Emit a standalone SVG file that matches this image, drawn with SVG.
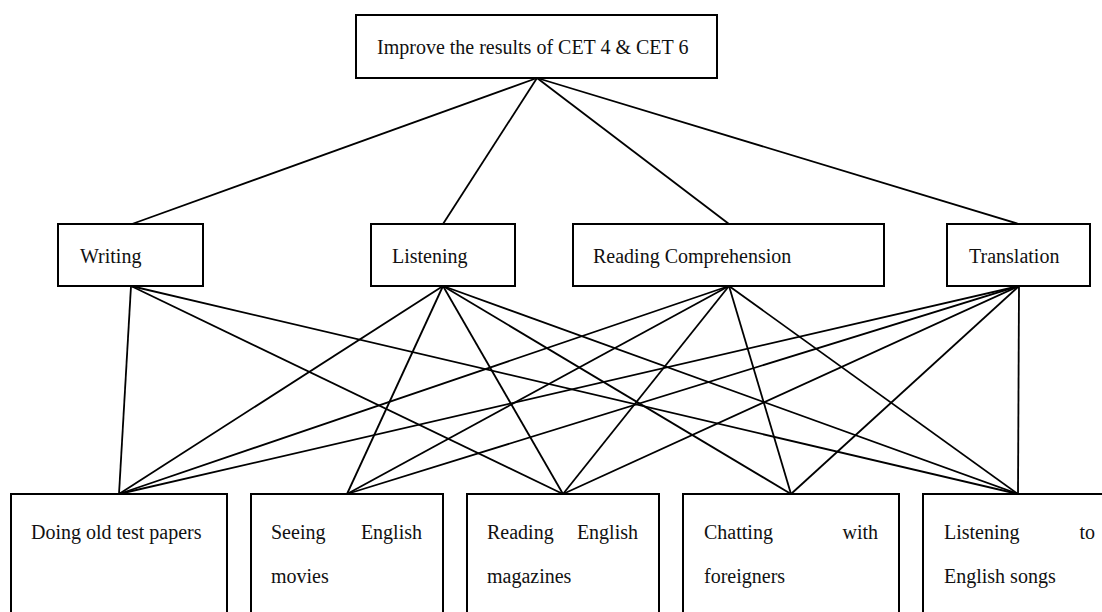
<svg xmlns="http://www.w3.org/2000/svg" width="1102" height="612" viewBox="0 0 1102 612">
<style>
.box{fill:#fff;stroke:#000;stroke-width:2}
.t{font-family:"Liberation Serif","Times New Roman",serif;font-size:20px;fill:#111}
.e{text-anchor:end}
.c line{stroke:#000;stroke-width:1.8}
</style>
<rect width="1102" height="612" fill="#fff"/>
<g class="c" id="connectors">
<line x1="537" y1="78" x2="132" y2="224"/>
<line x1="537" y1="78" x2="443" y2="224"/>
<line x1="537" y1="78" x2="729" y2="224"/>
<line x1="537" y1="78" x2="1019" y2="224"/>
<line x1="131" y1="286" x2="119" y2="494"/>
<line x1="131" y1="286" x2="563" y2="494"/>
<line x1="131" y1="286" x2="1018" y2="494"/>
<line x1="443" y1="286" x2="119" y2="494"/>
<line x1="443" y1="286" x2="347" y2="494"/>
<line x1="443" y1="286" x2="563" y2="494"/>
<line x1="443" y1="286" x2="791" y2="494"/>
<line x1="443" y1="286" x2="1018" y2="494"/>
<line x1="729" y1="286" x2="119" y2="494"/>
<line x1="729" y1="286" x2="347" y2="494"/>
<line x1="729" y1="286" x2="563" y2="494"/>
<line x1="729" y1="286" x2="791" y2="494"/>
<line x1="729" y1="286" x2="1018" y2="494"/>
<line x1="1019" y1="286" x2="119" y2="494"/>
<line x1="1019" y1="286" x2="347" y2="494"/>
<line x1="1019" y1="286" x2="563" y2="494"/>
<line x1="1019" y1="286" x2="791" y2="494"/>
<line x1="1019" y1="286" x2="1018" y2="494"/>
</g>
<g id="goal">
<rect class="box" x="356" y="15" width="361" height="63"/>
<text class="t" x="377" y="54">Improve the results of CET 4 &amp; CET 6</text>
</g>
<g id="writing">
<rect class="box" x="58" y="224" width="145" height="62"/>
<text class="t" x="80" y="263">Writing</text>
</g>
<g id="listening">
<rect class="box" x="371" y="224" width="144" height="62"/>
<text class="t" x="392" y="263">Listening</text>
</g>
<g id="reading">
<rect class="box" x="573" y="224" width="311" height="62"/>
<text class="t" x="593" y="263">Reading Comprehension</text>
</g>
<g id="translation">
<rect class="box" x="947" y="224" width="143" height="62"/>
<text class="t" x="969" y="263">Translation</text>
</g>
<g id="papers">
<rect class="box" x="11" y="494" width="216" height="130"/>
<text class="t" x="31" y="539">Doing old test papers</text>
</g>
<g id="movies">
<rect class="box" x="251" y="494" width="192" height="130"/>
<text class="t" x="271" y="539">Seeing</text>
<text class="t e" x="422" y="539">English</text>
<text class="t" x="271" y="583">movies</text>
</g>
<g id="magazines">
<rect class="box" x="467" y="494" width="192" height="130"/>
<text class="t" x="487" y="539">Reading</text>
<text class="t e" x="638" y="539">English</text>
<text class="t" x="487" y="583">magazines</text>
</g>
<g id="chatting">
<rect class="box" x="683" y="494" width="216" height="130"/>
<text class="t" x="704" y="539">Chatting</text>
<text class="t e" x="878" y="539">with</text>
<text class="t" x="704" y="583">foreigners</text>
</g>
<g id="songs">
<rect class="box" x="923" y="494" width="190" height="130"/>
<text class="t" x="944" y="539">Listening</text>
<text class="t e" x="1095" y="539">to</text>
<text class="t" x="944" y="583">English songs</text>
</g>
</svg>
